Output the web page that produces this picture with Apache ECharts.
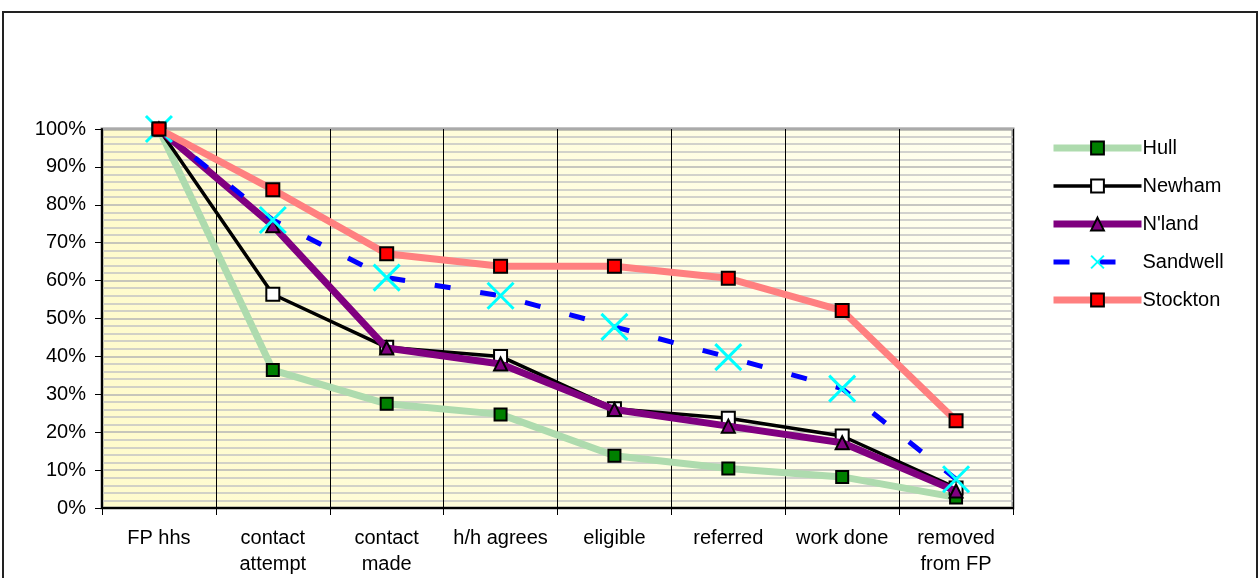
<!DOCTYPE html>
<html>
<head>
<meta charset="utf-8">
<script src="https://cdn.jsdelivr.net/npm/echarts@6/dist/echarts.min.js"></script>
<style>
html,body{margin:0;padding:0;background:#fff;}
#chart{width:1260px;height:578px;}
</style>
</head>
<body>
<div id="chart"></div>
<script>
const categories = ['FP hhs', 'contact\nattempt', 'contact\nmade', 'h/h agrees', 'eligible', 'referred', 'work done', 'removed\nfrom FP'];
const hull     = [100, 36.4, 27.5, 24.7, 13.8, 10.4, 8.2, 2.8];
const newham   = [100, 56.4, 42.4, 40.0, 26.2, 23.7, 19.0, 5.3];
const nland    = [100, 74.5, 42.2, 38.0, 26.0, 21.6, 17.2, 4.5];
const sandwell = [100, 76.0, 60.8, 56.0, 47.8, 39.8, 31.5, 7.6];
const stockton = [100, 84.0, 67.1, 63.8, 63.8, 60.6, 52.1, 23.0];
const seriesNames = ['Hull', 'Newham', "N'land", 'Sandwell', 'Stockton'];

const FONT = 'Liberation Sans, Arial, sans-serif';
const FS = 20;
const chart = echarts.init(document.getElementById('chart'), null, {renderer: 'canvas'});

const crossPath = 'path://M0,0L10,10M10,0L0,10';

chart.setOption({
  animation: false,
  backgroundColor: '#ffffff',
  textStyle: {fontFamily: FONT},
  graphic: [{
    type: 'rect',
    shape: {x: 3, y: 12, width: 1254, height: 620},
    style: {fill: 'none', stroke: '#222222', lineWidth: 2},
    silent: true,
    z: -10
  }],
  grid: {
    left: 102, right: 247, top: 129, bottom: 70,
    show: true,
    borderColor: '#8a8a8a',
    borderWidth: 3,
    backgroundColor: {
      type: 'linear', x: 0, y: 0, x2: 1, y2: 0,
      colorStops: [{offset: 0, color: '#FFFBCC'}, {offset: 1, color: '#FFFFF0'}]
    }
  },
  legend: {
    orient: 'vertical',
    left: 1045,
    top: 133,
    padding: 5,
    itemWidth: 88,
    itemHeight: 16,
    itemGap: 18,
    data: seriesNames,
    lineStyle: {width: 'inherit'},
    textStyle: {fontFamily: FONT, fontSize: FS, color: '#000', lineHeight: 20, padding: [0, 0, 0, -4]}
  },
  xAxis: {
    type: 'category',
    data: categories,
    boundaryGap: true,
    axisLine: {show: true, lineStyle: {color: '#000', width: 2}},
    axisTick: {show: true, length: 7, lineStyle: {color: '#000', width: 1}},
    splitLine: {show: true, lineStyle: {color: '#000', width: 1}},
    axisLabel: {
      interval: 0, margin: 17, fontSize: FS, lineHeight: 26,
      color: '#000', fontFamily: FONT
    }
  },
  yAxis: {
    type: 'value',
    min: 0, max: 100, interval: 10,
    axisLine: {show: true, lineStyle: {color: '#000', width: 2}},
    axisTick: {show: true, length: 7, lineStyle: {color: '#000', width: 1}},
    axisLabel: {formatter: '{value}%', margin: 16, fontSize: FS, color: '#000', fontFamily: FONT},
    splitLine: {show: true, lineStyle: {color: '#b4b4b4', width: 1.5}},
    minorTick: {show: false, splitNumber: 5},
    minorSplitLine: {show: true, lineStyle: {color: '#c4c4c4', width: 1.5}}
  },
  series: [
    {
      name: 'Hull', type: 'line', data: hull,
      symbol: 'rect', symbolSize: 12,
      lineStyle: {color: '#AEDBAE', width: 7},
      itemStyle: {color: '#008000', borderColor: '#000', borderWidth: 2},
      z: 2
    },
    {
      name: 'Newham', type: 'line', data: newham,
      symbol: 'rect', symbolSize: 13,
      lineStyle: {color: '#000000', width: 3.5},
      itemStyle: {color: '#ffffff', borderColor: '#000', borderWidth: 2},
      z: 3
    },
    {
      name: "N'land", type: 'line', data: nland,
      symbol: 'triangle', symbolSize: 13,
      lineStyle: {color: '#800080', width: 7},
      itemStyle: {color: '#800080', borderColor: '#000', borderWidth: 2},
      z: 4
    },
    {
      name: 'Sandwell', type: 'line', data: sandwell,
      symbol: crossPath, symbolSize: 26,
      lineStyle: {color: '#0000FF', width: 5, type: [16, 30]},
      itemStyle: {color: 'rgba(0,0,0,0)', borderColor: '#00FFFF', borderWidth: 3},
      z: 5
    },
    {
      name: 'Stockton', type: 'line', data: stockton,
      symbol: 'rect', symbolSize: 13,
      lineStyle: {color: '#FF8080', width: 7},
      itemStyle: {color: '#FF0000', borderColor: '#000', borderWidth: 2},
      z: 6
    }
  ]
});
</script>
</body>
</html>
